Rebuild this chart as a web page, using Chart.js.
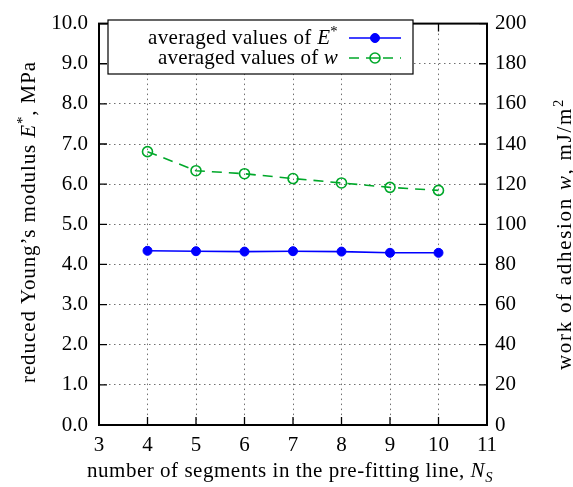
<!DOCTYPE html>
<html>
<head>
<meta charset="utf-8">
<script src="https://cdn.jsdelivr.net/npm/chart.js@4.4.1/dist/chart.umd.min.js"></script>
<style>
  html, body { margin: 0; padding: 0; background: #fff; }
  #wrap { width: 573px; height: 487px; position: relative; }
</style>
</head>
<body>
<div id="wrap"><canvas id="c" width="573" height="487"></canvas></div>
<script>
// Number of segments in the pre-fitting line
const segments = [4, 5, 6, 7, 8, 9, 10];
// Averaged reduced Young's modulus E*, MPa
const modulusE = [4.34, 4.33, 4.32, 4.33, 4.32, 4.29, 4.29];
// Averaged work of adhesion w, mJ/m^2
const adhesionW = [136.2, 126.7, 125.2, 122.8, 120.6, 118.4, 116.9];

const xTicks = [3, 4, 5, 6, 7, 8, 9, 10, 11];
const yTicks = [0, 1, 2, 3, 4, 5, 6, 7, 8, 9, 10];
const y2Ticks = [0, 20, 40, 60, 80, 100, 120, 140, 160, 180, 200];

const FONT = '"Liberation Serif", "DejaVu Serif", serif';
const FS = 21;
const BLUE = '#0000ff';
const GREEN = '#00a82a';

// Text runs mixing regular, italic, superscript and subscript pieces,
// spread out to a given overall width
function setFont(ctx, p, size) {
  const s = (p.sup || p.sub) ? size * 0.7 : size;
  ctx.font = (p.it ? 'italic ' : '') + s + 'px ' + FONT;
}
function richWidth(ctx, parts, size) {
  let w = 0;
  ctx.letterSpacing = '0px';
  for (const p of parts) { setFont(ctx, p, size); w += ctx.measureText(p.t).width; }
  return w;
}
function drawRich(ctx, parts, x, y, size, align, width) {
  const natural = richWidth(ctx, parts, size);
  const n = parts.reduce((k, p) => k + p.t.length, 0);
  const sp = width ? (width - natural) / n : 0;
  const w = natural + sp * n;
  let cx = align === 'right' ? x - w : align === 'center' ? x - w / 2 : x;
  ctx.textBaseline = 'alphabetic';
  ctx.textAlign = 'left';
  ctx.fillStyle = '#000';
  ctx.letterSpacing = sp + 'px';
  for (const p of parts) {
    setFont(ctx, p, size);
    const dy = p.sup ? -size * 0.38 : p.sub ? size * 0.22 : 0;
    ctx.fillText(p.t, cx, y + dy);
    cx += ctx.measureText(p.t).width;
  }
  ctx.letterSpacing = '0px';
}

const frame = {
  id: 'frame',
  afterDatasetsDraw(chart) {
    const { ctx, chartArea: a, scales } = chart;
    ctx.save();
    // inward tick marks
    ctx.strokeStyle = '#000';
    ctx.lineWidth = 1.3;
    const L = 8;
    ctx.beginPath();
    for (const v of xTicks) {
      const px = scales.x.getPixelForValue(v);
      ctx.moveTo(px, a.bottom); ctx.lineTo(px, a.bottom - L);
      ctx.moveTo(px, a.top); ctx.lineTo(px, a.top + L);
    }
    for (const v of yTicks) {
      const py = scales.y.getPixelForValue(v);
      ctx.moveTo(a.left, py); ctx.lineTo(a.left + L, py);
    }
    for (const v of y2Ticks) {
      const py = scales.y2.getPixelForValue(v);
      ctx.moveTo(a.right, py); ctx.lineTo(a.right - L, py);
    }
    ctx.stroke();
    // plot border
    ctx.lineWidth = 2;
    ctx.strokeRect(a.left, a.top, a.right - a.left, a.bottom - a.top);

    // legend box
    const bx = 108, by = 20, bw = 305, bh = 54;
    ctx.fillStyle = '#fff';
    ctx.fillRect(bx, by, bw, bh);
    ctx.lineWidth = 1.2;
    ctx.strokeRect(bx, by, bw, bh);
    const ds = chart.data.datasets;
    const rows = [
      { parts: [{ t: 'averaged values of ' }, { t: 'E', it: true }, { t: '*', sup: true }], y: 38, w: 190, d: ds[0] },
      { parts: [{ t: 'averaged values of ' }, { t: 'w', it: true }], y: 58, w: 180, d: ds[1] }
    ];
    for (const r of rows) {
      drawRich(ctx, r.parts, 338, r.y + 6, FS, 'right', r.w);
      ctx.strokeStyle = r.d.borderColor;
      ctx.lineWidth = r.d.borderWidth;
      ctx.setLineDash(r.d.borderDash || []);
      ctx.beginPath();
      ctx.moveTo(349, r.y); ctx.lineTo(401, r.y);
      ctx.stroke();
      ctx.setLineDash([]);
      ctx.beginPath();
      ctx.arc(375, r.y, r.d.pointRadius, 0, Math.PI * 2);
      if (r.d.pointBackgroundColor !== 'rgba(0,0,0,0)') {
        ctx.fillStyle = r.d.pointBackgroundColor; ctx.fill();
      } else {
        ctx.fillStyle = '#fff'; ctx.fill();
        ctx.moveTo(375 - r.d.pointRadius, r.y); ctx.lineTo(375 + r.d.pointRadius, r.y);
      }
      ctx.strokeStyle = r.d.pointBorderColor;
      ctx.lineWidth = r.d.pointBorderWidth;
      ctx.stroke();
    }

    // axis titles
    ctx.save();
    ctx.translate(35, 222);
    ctx.rotate(-Math.PI / 2);
    drawRich(ctx, [{ t: 'reduced Young\u2019s modulus ' }, { t: 'E', it: true }, { t: '*', sup: true }, { t: ', MPa' }], 0, 0, FS, 'center', 322);
    ctx.restore();
    ctx.save();
    ctx.translate(571, 234);
    ctx.rotate(-Math.PI / 2);
    drawRich(ctx, [{ t: 'work of adhesion ' }, { t: 'w', it: true }, { t: ', mJ/m' }, { t: '2', sup: true }], 0, 0, FS, 'center', 272);
    ctx.restore();
    drawRich(ctx, [{ t: 'number of segments in the pre-fitting line, ' }, { t: 'N', it: true }, { t: 'S', it: true, sub: true }], 290, 477, FS, 'center', 406);
    ctx.restore();
  }
};

new Chart(document.getElementById('c'), {
  type: 'line',
  data: {
    datasets: [
      {
        label: 'averaged values of E*',
        data: segments.map((s, i) => ({ x: s, y: modulusE[i] })),
        yAxisID: 'y',
        borderColor: BLUE,
        backgroundColor: BLUE,
        borderWidth: 1.6,
        pointRadius: 4.5,
        pointBackgroundColor: BLUE,
        pointBorderColor: BLUE,
        pointBorderWidth: 1,
        tension: 0
      },
      {
        label: 'averaged values of w',
        data: segments.map((s, i) => ({ x: s, y: adhesionW[i] })),
        yAxisID: 'y2',
        borderColor: GREEN,
        backgroundColor: GREEN,
        borderWidth: 1.6,
        borderDash: [10, 7],
        pointRadius: 5,
        pointBackgroundColor: 'rgba(0,0,0,0)',
        pointBorderColor: GREEN,
        pointBorderWidth: 1.6,
        tension: 0
      }
    ]
  },
  options: {
    responsive: false,
    animation: false,
    devicePixelRatio: 1,
    layout: { padding: { top: 15, left: 0, right: 0, bottom: 0 } },
    plugins: { legend: { display: false }, tooltip: { enabled: false } },
    scales: {
      x: {
        type: 'linear', min: 3, max: 11,
        afterBuildTicks: s => { s.ticks = xTicks.map(v => ({ value: v })); },
        afterFit: s => { s.height = 62; },
        ticks: { padding: 8, color: '#000', font: { family: FONT, size: FS }, maxRotation: 0 },
        grid: { color: '#707070', lineWidth: 1, drawTicks: false },
        border: { display: false, dash: [1.5, 3.5] }
      },
      y: {
        position: 'left', min: 0, max: 10,
        afterBuildTicks: s => { s.ticks = yTicks.map(v => ({ value: v })); },
        afterFit: s => { s.width = 99; },
        ticks: { padding: 11, color: '#000', font: { family: FONT, size: FS }, callback: v => v.toFixed(1) },
        grid: { color: '#707070', lineWidth: 1, drawTicks: false },
        border: { display: false, dash: [1.5, 3.5] }
      },
      y2: {
        position: 'right', min: 0, max: 200,
        afterBuildTicks: s => { s.ticks = y2Ticks.map(v => ({ value: v })); },
        afterFit: s => { s.width = 86; },
        ticks: { padding: 8, color: '#000', font: { family: FONT, size: FS } },
        grid: { display: false, drawTicks: false },
        border: { display: false }
      }
    }
  },
  plugins: [frame]
});
</script>
</body>
</html>
